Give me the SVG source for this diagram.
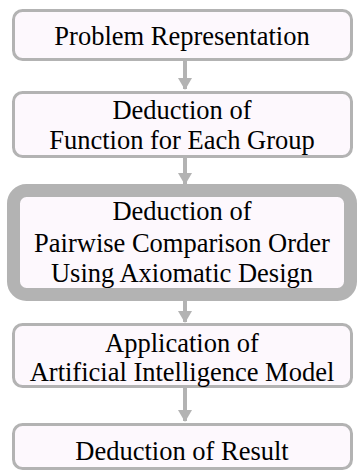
<svg xmlns="http://www.w3.org/2000/svg" width="361" height="471" viewBox="0 0 361 471">
<style>
.box{fill:#fdf8fd;stroke:#b3b3b3;stroke-width:3}
.thick{fill:#fdf8fd;stroke:#b3b3b3;stroke-width:13}
.t{font-family:'Liberation Serif',serif;font-size:26.5px;fill:#000;text-anchor:middle}
.conn line{stroke:#b3b3b3;stroke-width:4}
</style>
<defs>
<marker id="ah" markerUnits="userSpaceOnUse" markerWidth="12" markerHeight="14" refX="11" refY="7" orient="auto" viewBox="0 0 12 14">
<path d="M0,0 L12,7 L0,14 Z" fill="#b3b3b3"/>
</marker>
</defs>
<rect width="361" height="471" fill="#ffffff"/>
<g class="conn" id="connectors">
<line x1="185" y1="61" x2="185" y2="89" marker-end="url(#ah)"/>
<line x1="185" y1="158" x2="185" y2="184" marker-end="url(#ah)"/>
<line x1="185" y1="301" x2="185" y2="322" marker-end="url(#ah)"/>
<line x1="185" y1="388" x2="185" y2="421" marker-end="url(#ah)"/>
</g>
<g id="n1">
<rect class="box" x="13.5" y="10.5" width="338" height="49" rx="9"/>
<text class="t" x="182" y="45">Problem Representation</text>
</g>
<g id="n2">
<rect class="box" x="13.5" y="92.5" width="338" height="64" rx="9"/>
<text class="t" x="182" y="119">Deduction of</text>
<text class="t" x="182" y="149">Function for Each Group</text>
</g>
<g id="n3">
<rect class="thick" x="13.5" y="190.5" width="337" height="104" rx="13"/>
<text class="t" x="182" y="220">Deduction of</text>
<text class="t" x="182" y="252">Pairwise Comparison Order</text>
<text class="t" x="182" y="282">Using Axiomatic Design</text>
</g>
<g id="n4">
<rect class="box" x="13.5" y="324.5" width="338" height="62" rx="9"/>
<text class="t" x="182" y="352">Application of</text>
<text class="t" x="182" y="381">Artificial Intelligence Model</text>
</g>
<g id="n5">
<rect class="box" x="13.5" y="424.5" width="338" height="44" rx="9"/>
<text class="t" x="182" y="460">Deduction of Result</text>
</g>
</svg>
